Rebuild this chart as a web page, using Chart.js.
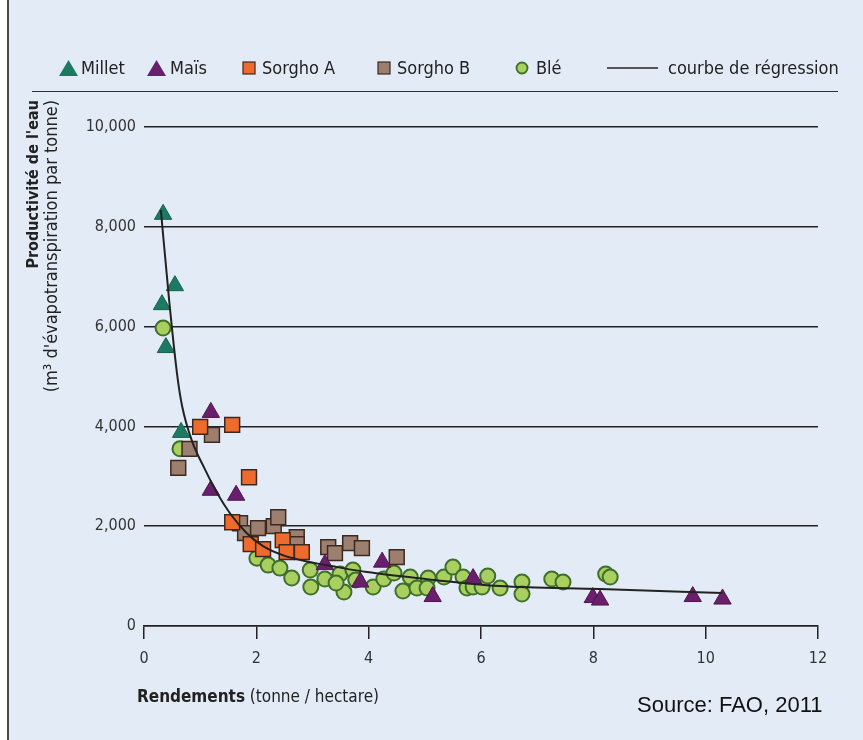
<!DOCTYPE html>
<html><head><meta charset="utf-8">
<script src="https://cdn.jsdelivr.net/npm/chart.js@4"></script>
<style>
html,body{margin:0;padding:0;background:#fff;}
#wrap{position:relative;width:863px;height:740px;background:#e3ebf6;overflow:hidden;}
#lb{position:absolute;left:0;top:0;width:7px;height:740px;background:#fff;border-right:2px solid #4a4a4a;}
#rule{position:absolute;left:32px;top:91px;width:806px;height:0;border-top:1.5px solid #333;}
#c{position:absolute;left:0;top:0;}
.t{position:absolute;font-family:"Liberation Sans Narrow","DejaVu Sans Condensed",sans-serif;color:#222;white-space:nowrap;line-height:1;}
.lg{position:absolute;top:59px;font-size:18px;}
.lg svg{position:absolute;}
.rot{position:absolute;width:320px;height:20px;text-align:right;transform-origin:0 0;transform:rotate(-90deg);}
</style></head>
<body>
<div id="wrap">
<div id="lb"></div>
<div id="rule"></div>
<canvas id="c" width="863" height="740"></canvas>
<div class="t lg" style="left:58px;width:80px;"><svg width="21" height="18" style="left:0;top:0"><polygon points="10.5,1 20,17 1,17" fill="#1d7a62"/></svg><span style="position:absolute;left:23px;top:0">Millet</span></div>
<div class="t lg" style="left:146px;width:80px;"><svg width="21" height="18" style="left:0;top:0"><polygon points="10.5,1 20,17 1,17" fill="#6a1f6c"/></svg><span style="position:absolute;left:24px;top:0">Maïs</span></div>
<div class="t lg" style="left:242px;width:110px;"><svg width="14" height="14" style="left:0;top:2px"><rect x="1" y="1" width="12" height="12" fill="#ef6a2d" stroke="#3c2a20" stroke-width="1.2"/></svg><span style="position:absolute;left:20px;top:0">Sorgho A</span></div>
<div class="t lg" style="left:377px;width:110px;"><svg width="14" height="14" style="left:0;top:2px"><rect x="1" y="1" width="12" height="12" fill="#9c7f6e" stroke="#3c2a20" stroke-width="1.2"/></svg><span style="position:absolute;left:20px;top:0">Sorgho B</span></div>
<div class="t lg" style="left:515px;width:60px;"><svg width="14" height="14" style="left:0;top:2px"><circle cx="7" cy="7" r="5.5" fill="#a8cf5f" stroke="#3e6f2b" stroke-width="1.8"/></svg><span style="position:absolute;left:21px;top:0">Blé</span></div>
<div class="t lg" style="left:607px;width:250px;"><svg width="52" height="16" style="left:0;top:1px"><line x1="0" y1="8" x2="51" y2="8" stroke="#222" stroke-width="1.6"/></svg><span style="position:absolute;left:61px;top:0">courbe de régression</span></div>
<div class="t rot" style="left:25px;top:420px;font-weight:bold;font-size:16px;">Productivité de l'eau</div>
<div class="t rot" style="left:42px;top:420px;font-size:18px;">(m³ d'évapotranspiration par tonne)</div>
<div class="t" style="left:137px;top:688px;font-size:17px;"><b>Rendements</b> (tonne / hectare)</div>
<div class="t" style="left:637px;top:694px;font-size:22px;font-family:'Liberation Sans',Arial,sans-serif;color:#111;">Source: FAO, 2011</div>
</div>
<script>
// Axis ticks
const xTickValues = [0, 2, 4, 6, 8, 10, 12];
const yTickValues = [0, 2000, 4000, 6000, 8000, 10000];

// Millet
const milletX = [0.34, 0.55, 0.32, 0.39, 0.66];
const milletY = [8250, 6820, 6440, 5580, 3880];
// Maïs
const maisX = [1.19, 1.19, 1.64, 3.22, 3.85, 4.24, 5.14, 5.86, 7.99, 8.12, 9.77, 10.3];
const maisY = [4280, 2720, 2620, 1230, 880, 1280, 590, 950, 570, 520, 590, 540];
// Sorgho A
const sorghoAX = [1.0, 1.57, 1.87, 1.57, 1.90, 2.12, 2.47, 2.54, 2.81];
const sorghoAY = [3990, 4030, 2980, 2080, 1640, 1540, 1720, 1480, 1480];
// Sorgho B
const sorghoBX = [0.61, 0.81, 1.21, 1.71, 1.80, 2.03, 2.31, 2.39, 2.72, 2.72, 3.28, 3.40, 3.67, 3.88, 4.50];
const sorghoBY = [3170, 3550, 3830, 2060, 1860, 1960, 2000, 2180, 1780, 1640, 1580, 1460, 1660, 1560, 1380];
// Blé
const bleX = [0.34, 0.64, 2.01, 2.21, 2.42, 2.63, 2.96, 2.97, 3.22, 3.49, 3.56, 3.72, 3.77, 4.08, 4.27, 4.45, 4.61, 4.74, 4.86, 5.06, 5.04, 5.34, 5.50, 5.68, 5.75, 5.86, 6.02, 6.12, 6.34, 6.73, 6.73, 7.26, 7.46, 8.22, 8.30, 3.42];
const bleY = [5970, 3550, 1360, 1220, 1160, 960, 1120, 780, 940, 1040, 680, 1120, 920, 780, 940, 1060, 700, 980, 760, 960, 760, 980, 1180, 980, 760, 780, 780, 1000, 760, 880, 640, 940, 880, 1040, 980, 860];
// Courbe de régression
const curveX = [0.30, 0.45, 0.60, 0.68, 0.85, 1.09, 1.30, 1.53, 1.83, 2.12, 2.47, 2.96, 3.44, 3.97, 4.86, 6.34, 8.12, 10.3];
const curveY = [8340, 6500, 4950, 4400, 3720, 3130, 2670, 2260, 1860, 1600, 1420, 1280, 1180, 1080, 960, 800, 740, 660];

const pts = (xs, ys) => xs.map((x, i) => ({x: x, y: ys[i]}));
const FONT = "'Liberation Sans Narrow','DejaVu Sans Condensed',sans-serif";

new Chart(document.getElementById('c'), {
  type: 'scatter',
  data: {
    datasets: [
      {label: 'courbe de régression', type: 'line', data: pts(curveX, curveY), borderColor: '#222', borderWidth: 2, pointRadius: 0, showLine: true, fill: false, cubicInterpolationMode: 'monotone', order: 0},
      {label: 'Millet', data: pts(milletX, milletY), pointStyle: 'triangle', pointRadius: 10, backgroundColor: '#1d7a62', borderColor: '#16604c', borderWidth: 1, order: 1},
      {label: 'Maïs', data: pts(maisX, maisY), pointStyle: 'triangle', pointRadius: 10, backgroundColor: '#6a1f6c', borderColor: '#4d164f', borderWidth: 1, order: 2},
      {label: 'Sorgho A', data: pts(sorghoAX, sorghoAY), pointStyle: 'rect', pointRadius: 10.5, backgroundColor: '#ef6a2d', borderColor: '#3c2a20', borderWidth: 1.5, order: 3},
      {label: 'Sorgho B', data: pts(sorghoBX, sorghoBY), pointStyle: 'rect', pointRadius: 10.5, backgroundColor: '#9c7f6e', borderColor: '#3c2a20', borderWidth: 1.5, order: 4},
      {label: 'Blé', data: pts(bleX, bleY), pointStyle: 'circle', pointRadius: 7.5, backgroundColor: '#a8cf5f', borderColor: '#3e6f2b', borderWidth: 2, order: 5}
    ]
  },
  options: {
    responsive: false,
    animation: false,
    layout: {padding: {left: 0, right: 45, top: 127, bottom: 0}},
    plugins: {legend: {display: false}, tooltip: {enabled: false}, title: {display: false}},
    scales: {
      x: {
        type: 'linear', min: 0, max: 12,
        afterBuildTicks: s => { s.ticks = xTickValues.map(v => ({value: v})); },
        afterFit: s => { s.height = 114; },
        ticks: {color: '#333', font: {family: FONT, size: 16}, padding: 10},
        grid: {drawOnChartArea: false, drawTicks: true, tickLength: 13, color: '#222', lineWidth: 1.5},
        border: {display: true, color: '#222', width: 1.5}
      },
      y: {
        type: 'linear', min: 0, max: 10000,
        afterBuildTicks: s => { s.ticks = yTickValues.map(v => ({value: v})); },
        afterFit: s => { s.width = 144; },
        ticks: {color: '#333', font: {family: FONT, size: 16}, padding: 8,
          callback: v => v.toLocaleString('en-US')},
        grid: {drawTicks: false, color: '#222', lineWidth: 1.5},
        border: {display: false}
      }
    }
  }
});
</script>
</body></html>
